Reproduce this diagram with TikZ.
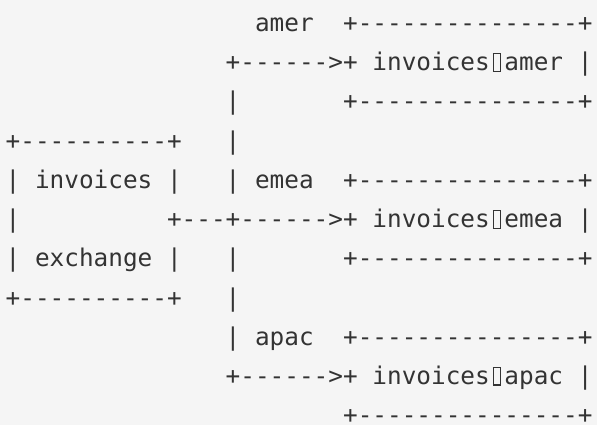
\documentclass[tikz,border=0pt]{standalone}
\usepackage{fontspec}
\setmonofont{DejaVu Sans Mono}
\definecolor{bgc}{HTML}{F5F5F5}
\definecolor{ink}{HTML}{333333}
\newcommand{\tofu}{\makebox[0.602em][c]{\fboxsep=0pt\fboxrule=0.05em\fbox{\rule{0pt}{0.68em}\hspace{0.24em}}}}
\newcommand{\seg}[4]{\node[txt] (#1) at ({5.67+14.67*#3},{31.6+39.2*(#2-1)}) {#4};}
\tikzset{txt/.style={anchor=base west,inner sep=0pt,outer sep=0pt,text=ink,font=\ttfamily\fontsize{24.37}{39.2}\selectfont}}
\begin{document}
\begin{tikzpicture}[x=1pt,y=-1pt]
\fill[bgc] (0,0) rectangle (597,425);
\useasboundingbox (0,0) rectangle (597,425);
% row 1
\seg{amerlbl}{1}{17}{amer}
\seg{amertop}{1}{23}{+---------------+}
% row 2
\seg{amerarr}{2}{15}{+------>+}
\seg{amertxt}{2}{25}{invoices\tofu amer}
\seg{amerright}{2}{39}{|}
% row 3
\seg{bus3}{3}{15}{|}
\seg{amerbot}{3}{23}{+---------------+}
% row 4
\seg{srctop}{4}{0}{+----------+}
\seg{bus4}{4}{15}{|}
% row 5
\seg{srcl1}{5}{0}{| invoices |}
\seg{emealbl}{5}{15}{| emea}
\seg{emeatop}{5}{23}{+---------------+}
% row 6
\seg{srcl2}{6}{0}{|}
\seg{emeaarr}{6}{11}{+---+------>+}
\seg{emeatxt}{6}{25}{invoices\tofu emea}
\seg{emearight}{6}{39}{|}
% row 7
\seg{srcl3}{7}{0}{| exchange |}
\seg{bus7}{7}{15}{|}
\seg{emeabot}{7}{23}{+---------------+}
% row 8
\seg{srcbot}{8}{0}{+----------+}
\seg{bus8}{8}{15}{|}
% row 9
\seg{apaclbl}{9}{15}{| apac}
\seg{apactop}{9}{23}{+---------------+}
% row 10
\seg{apacarr}{10}{15}{+------>+}
\seg{apactxt}{10}{25}{invoices\tofu apac}
\seg{apacright}{10}{39}{|}
% row 11
\seg{apacbot}{11}{23}{+---------------+}
\end{tikzpicture}
\end{document}
